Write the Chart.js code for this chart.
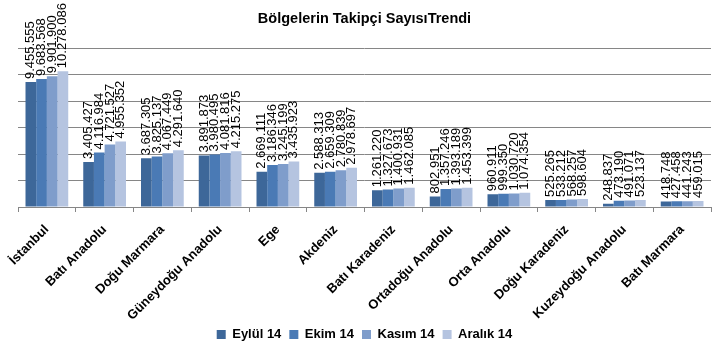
<!DOCTYPE html>
<html><head><meta charset="utf-8">
<script src="https://cdn.jsdelivr.net/npm/chart.js@4/dist/chart.umd.min.js"></script>
<style>html,body{margin:0;padding:0;background:#fff}#w{width:728px;height:356px}</style>
</head><body><div id="w"><canvas id="c"></canvas></div>
<script>
const categories = ["İstanbul","Batı Anadolu","Doğu Marmara","Güneydoğu Anadolu","Ege","Akdeniz","Batı Karadeniz","Ortadoğu Anadolu","Orta Anadolu","Doğu Karadeniz","Kuzeydoğu Anadolu","Batı Marmara"];
const seriesNames = ["Eylül 14","Ekim 14","Kasım 14","Aralık 14"];
const eylul = [9455555,3405427,3687305,3891873,2669111,2588313,1261220,802951,960911,525265,248837,418748];
const ekim = [9683568,4116984,3825137,3980495,3186346,2659309,1327673,1357246,999350,533212,473190,427458];
const kasim = [9901900,4721527,4067449,4081816,3245199,2780839,1400931,1393189,1030720,568257,491071,441243];
const aralik = [10278086,4955352,4291640,4215275,3435923,2978697,1462085,1453399,1074354,598604,523137,459015];
const colors = ['#3D6799','#4A7AB5','#7F9DCB','#B5C4E0'];

const fmt = v => String(v).replace(/\B(?=(\d{3})+(?!\d))/g, '.');

const labelPlugin = {
  id: 'vlabels',
  afterDatasetsDraw(chart) {
    const ctx = chart.ctx;
    ctx.save();
    ctx.font = '13px "Liberation Sans", Arial, sans-serif';
    ctx.fillStyle = '#000';
    chart.data.datasets.forEach((ds, i) => {
      const meta = chart.getDatasetMeta(i);
      meta.data.forEach((bar, j) => {
        ctx.save();
        ctx.translate(bar.x, bar.y - 3);
        ctx.rotate(-Math.PI / 2);
        ctx.textAlign = 'left';
        ctx.textBaseline = 'middle';
        ctx.fillText(fmt(ds.data[j]), 0, 0);
        ctx.restore();
      });
    });
    ctx.restore();
  }
};

const datasets = [eylul, ekim, kasim, aralik].map((d, i) => ({
  label: seriesNames[i], data: d, backgroundColor: colors[i],
  categoryPercentage: 0.74, barPercentage: 1.0, borderWidth: 0
}));

new Chart(document.getElementById('c'), {
  type: 'bar',
  data: { labels: categories, datasets },
  plugins: [labelPlugin],
  options: {
    responsive: true, maintainAspectRatio: false, animation: false,
    layout: { padding: { left: 18, right: 17, top: 0, bottom: 5 } },
    plugins: {
      title: { display: true, text: 'Bölgelerin Takipçi SayısıTrendi', color: '#000',
        font: { family: '"Liberation Sans", Arial, sans-serif', size: 14.5, weight: 'bold' },
        padding: { top: 10, bottom: 21 } },
      legend: { position: 'bottom',
        labels: { color: '#000', boxWidth: 9, boxHeight: 9, padding: 8,
          font: { family: '"Liberation Sans", Arial, sans-serif', size: 13, weight: 'bold' } } },
      tooltip: { enabled: false }
    },
    scales: {
      x: {
        afterFit(scale) { scale.height = 113; },
        grid: { display: true, drawOnChartArea: false, offset: true, tickLength: 5, color: '#868686' },
        border: { display: true, color: '#868686' },
        ticks: { color: '#000', maxRotation: 45, minRotation: 45, padding: 10,
          font: { family: '"Liberation Sans", Arial, sans-serif', size: 13, weight: 'bold' } }
      },
      y: {
        min: 0, max: 12000000,
        ticks: { display: false, stepSize: 2000000 },
        grid: { color: '#868686', drawTicks: false },
        border: { display: false }
      }
    }
  }
});
</script></body></html>
